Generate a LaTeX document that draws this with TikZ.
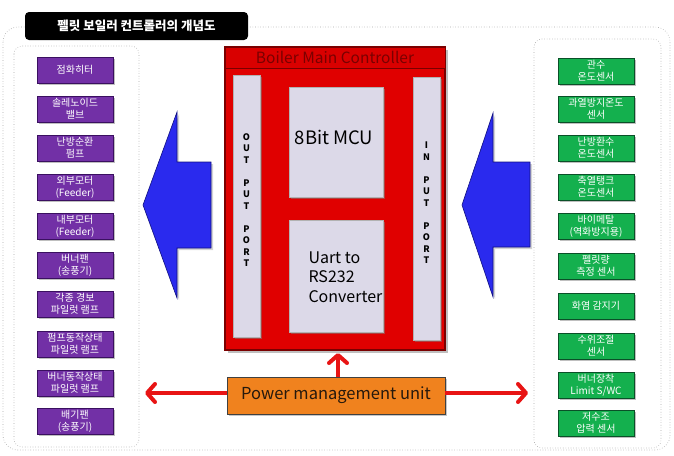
\documentclass[tikz,border=0pt]{standalone}
\usepackage{fontspec}
\setmainfont{Noto Sans CJK KR}
\usetikzlibrary{arrows.meta,shadows}
\definecolor{purp}{HTML}{7230A6}
\definecolor{purpd}{HTML}{3A1060}
\definecolor{grn}{HTML}{14B04E}
\definecolor{grnd}{HTML}{0A5028}
\definecolor{redm}{HTML}{E00000}
\definecolor{redd}{HTML}{7A0000}
\definecolor{lav}{HTML}{DCD9E8}
\definecolor{blu}{HTML}{2A2AEE}
\definecolor{blud}{HTML}{101080}
\definecolor{orng}{HTML}{F0821E}
\definecolor{arrred}{HTML}{E81414}
\begin{document}
\begin{tikzpicture}[x=1pt,y=-1pt,
  pbox/.style={draw=purpd, line width=0.9pt, fill=purp, text=white, minimum width=76pt, minimum height=26pt, inner sep=1pt,
    font=\fontsize{10}{12}\selectfont, align=center, drop shadow={opacity=0.5, shadow xshift=1.8pt, shadow yshift=-1.8pt}},
  gbox/.style={pbox, draw=grnd, fill=grn},
  panel/.style={draw=gray!70, dotted, line width=0.6pt, rounded corners=8pt},
  lavbox/.style={fill=lav, draw=gray!60, line width=0.4pt, drop shadow={opacity=0.5, shadow xshift=1.5pt, shadow yshift=-1.5pt}},
  portlbl/.style={font=\fontsize{9}{11.5}\selectfont\bfseries, align=center, inner sep=0pt},
  bluearrow/.style={fill=blu, draw=blud, line width=0.6pt, drop shadow={opacity=0.35, shadow xshift=2pt, shadow yshift=-2pt}},
  redarrow/.style={draw=arrred, line width=4pt, -{Straight Barb[length=8pt,width=18pt,line width=4pt,round]}}
]
\useasboundingbox (0,0) rectangle (674,455);

% outer and panel borders
\draw[panel, rounded corners=15pt] (3,27) rectangle (670,450);
\draw[panel] (14,46) rectangle (139,447);
\draw[panel] (534,39) rectangle (661,448);

% title
\node[fill=black, rounded corners=4pt, minimum width=223pt, minimum height=28pt, text=white,
  font=\fontsize{12.5}{14}\selectfont\bfseries] (title) at (136.5,26) {펠릿 보일러 컨트롤러의 개념도};

% left outputs
\node[pbox] (o1) at (75,70) {점화히터};
\node[pbox] (o2) at (75,109) {솔레노이드\\밸브};
\node[pbox] (o3) at (75,148) {난방순환\\펌프};
\node[pbox] (o4) at (75,187) {외부모터\\(Feeder)};
\node[pbox] (o5) at (75,226) {내부모터\\(Feeder)};
\node[pbox] (o6) at (75,265) {버너팬\\(송풍기)};
\node[pbox] (o7) at (75,304) {각종 경보\\파일럿 램프};
\node[pbox] (o8) at (75,344) {펌프동작상태\\파일럿 램프};
\node[pbox] (o9) at (75,383) {버너동작상태\\파일럿 램프};
\node[pbox] (o10) at (75,421) {배기팬\\(송풍기)};

% right inputs
\node[gbox] (i1) at (596,71) {관수\\온도센서};
\node[gbox] (i2) at (596,109) {과열방지온도\\센서};
\node[gbox] (i3) at (596,148) {난방환수\\온도센서};
\node[gbox] (i4) at (596,187) {축열탱크\\온도센서};
\node[gbox] (i5) at (596,226) {바이메탈\\(역화방지용)};
\node[gbox] (i6) at (596,266) {펠릿량\\측정 센서};
\node[gbox] (i7) at (596,306) {화염 감지기};
\node[gbox] (i8) at (596,346) {수위조절\\센서};
\node[gbox] (i9) at (596,385) {버너장착\\Limit S/WC};
\node[gbox] (i10) at (596,423) {저수조\\압력 센서};

% blue arrows
\path[bluearrow] (143,205) -- (177,112) -- (177,162) -- (211,162) -- (211,248) -- (177,248) -- (177,298) -- cycle;
\path[bluearrow] (462,205) -- (493,113) -- (493,162) -- (530,162) -- (530,247) -- (493,247) -- (493,297) -- cycle;

% main controller
\node[fill=redm, draw=redd, line width=2pt, minimum width=220pt, minimum height=303pt, inner sep=0pt,
  drop shadow={opacity=0.5, shadow xshift=2.5pt, shadow yshift=-2.5pt}] (ctrl) at (335,198.5) {};
\node[fill=red!85!black, draw=redd, line width=1pt, minimum width=220pt, minimum height=21pt, inner sep=0pt,
  text=redd, font=\fontsize{15.5}{16}\selectfont] (hdr) at (335,57.5) {Boiler Main Controller};

\node[lavbox, minimum width=27pt, minimum height=262pt, inner sep=0pt] (outp) at (246.5,206) {};
\node[portlbl] at (246.5,200) {O\\U\\T\\[11.5pt]P\\U\\T\\[11.5pt]P\\O\\R\\T};
\node[lavbox, minimum width=27pt, minimum height=263pt, inner sep=0pt] (inp) at (426.5,208.5) {};
\node[portlbl] at (426.5,203) {I\\N\\[11.5pt]P\\U\\T\\[11.5pt]P\\O\\R\\T};

\node[lavbox, minimum width=94pt, minimum height=110pt, inner sep=0pt] (mcu) at (336,142) {};
\node[font=\fontsize{18.5}{20}\selectfont] at (334,137) {8Bit MCU};
\node[lavbox, minimum width=94pt, minimum height=112pt, inner sep=0pt] (uart) at (336,276) {};
\node[font=\fontsize{16}{19.5}\selectfont, align=left, anchor=west] at (305,277) {Uart to\\RS232\\Converter};

% power management
\node[fill=orng, draw=black!75, line width=0.8pt, minimum width=218pt, minimum height=37pt, text=black!80!brown,
  font=\fontsize{16.5}{18}\selectfont, drop shadow={opacity=0.45, shadow xshift=2pt, shadow yshift=-2pt}] (pmu) at (336,395.5) {Power management unit};
\coordinate (lend) at (145,393);
\coordinate (rend) at (528,393);
\draw[redarrow] (pmu.west |- lend) -- (lend);
\draw[redarrow] (pmu.east |- rend) -- (rend);
\draw[redarrow] (pmu.north -| 338,0) -- (338,353);
\end{tikzpicture}
\end{document}
